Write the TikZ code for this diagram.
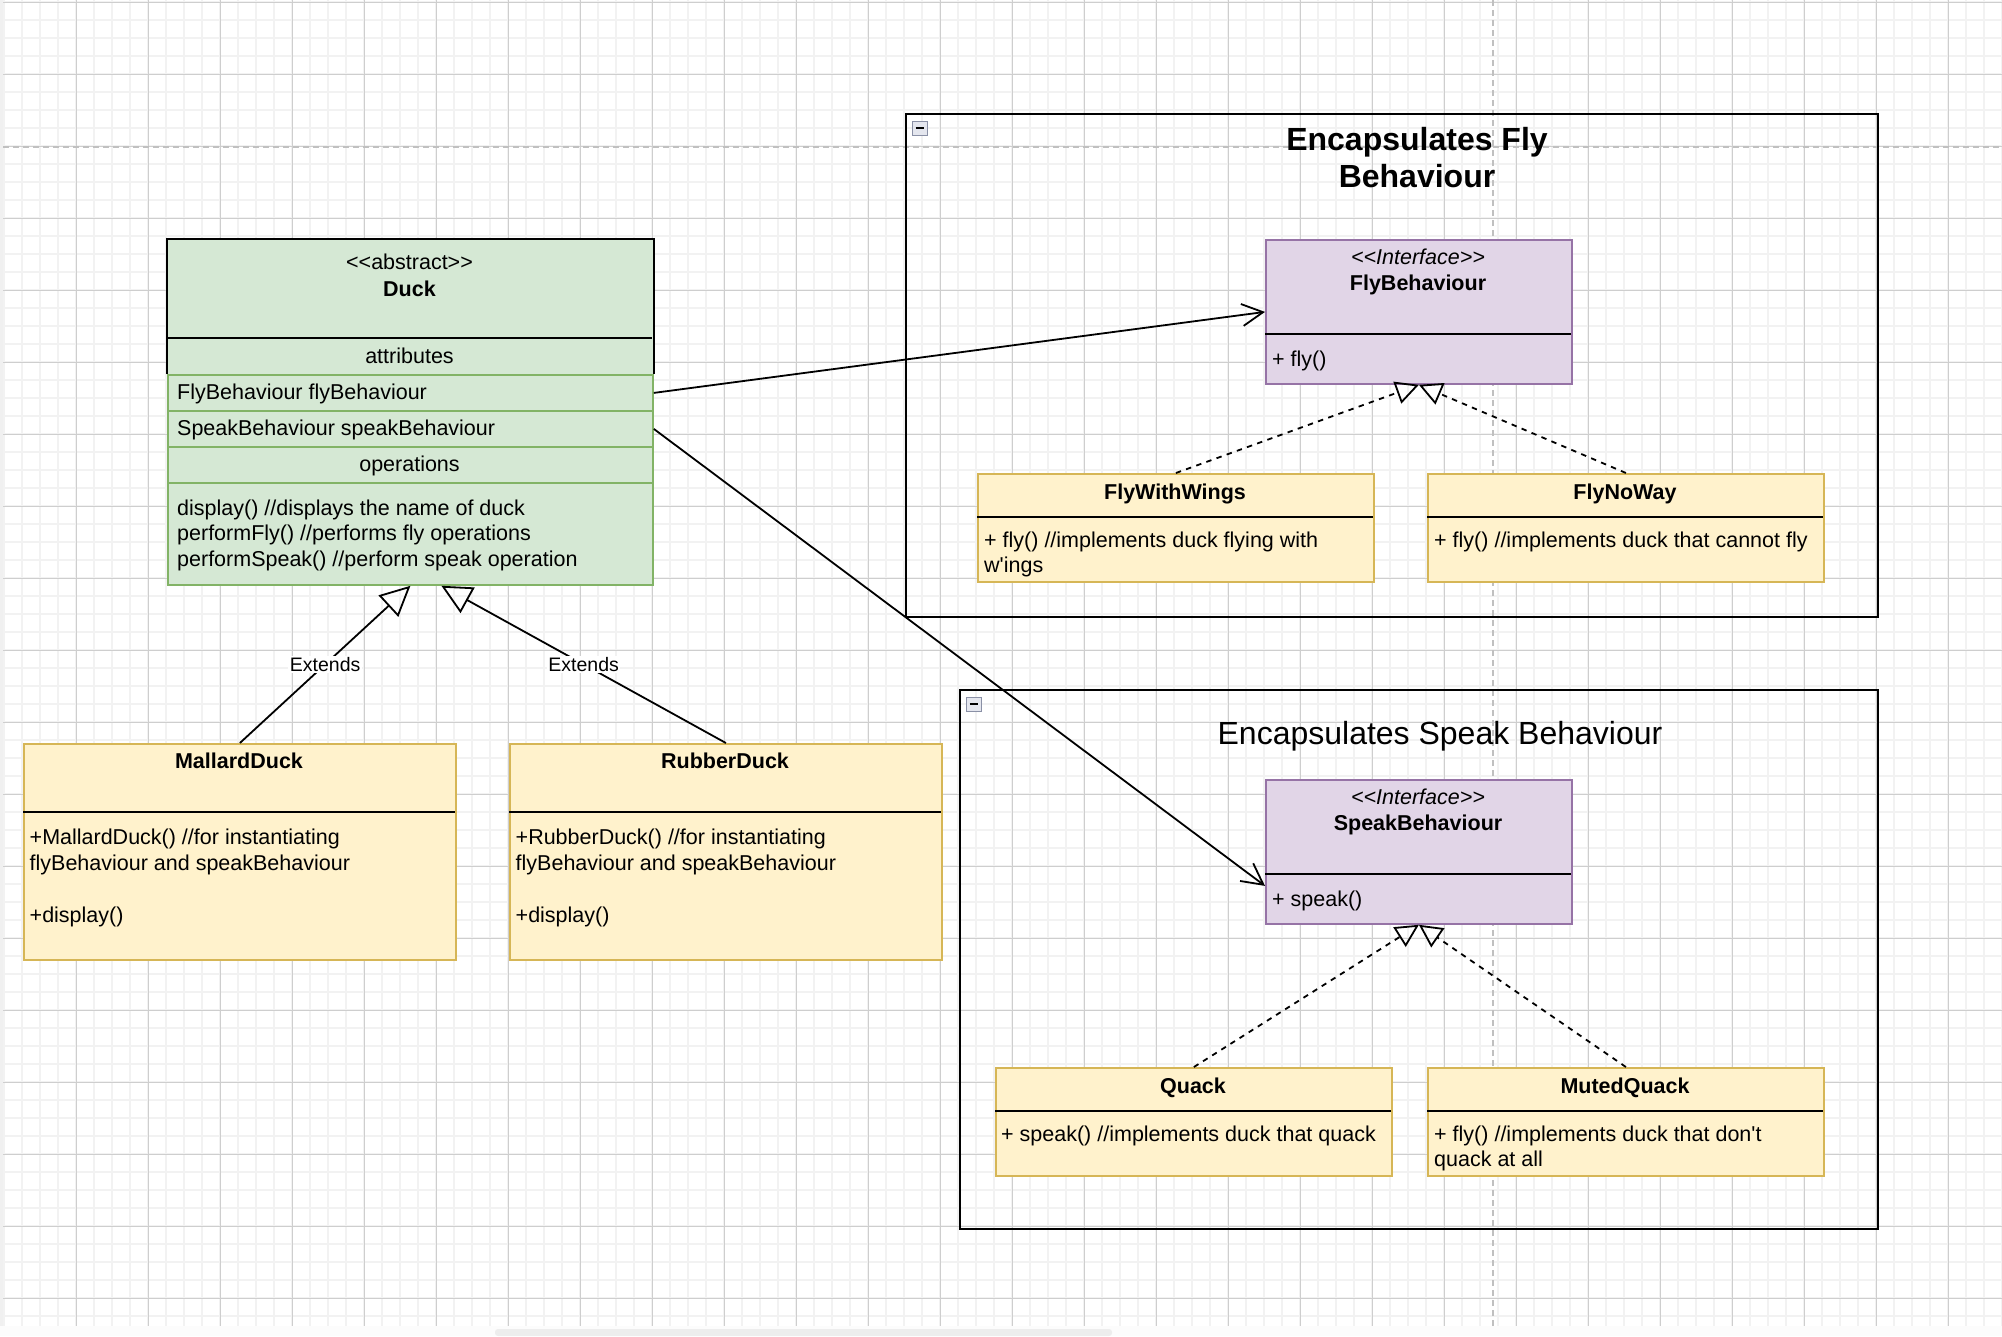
\documentclass[tikz,border=0pt]{standalone}
\usepackage{fontspec}
\setmainfont{Liberation Sans}[Ligatures=TeXOff]
\usetikzlibrary{arrows.meta}
\definecolor{sage}{RGB}{213, 232, 212}
\definecolor{fern}{RGB}{130, 179, 102}
\definecolor{lilac}{RGB}{225, 213, 231}
\definecolor{amethyst}{RGB}{150, 115, 166}
\definecolor{cream}{RGB}{255, 242, 204}
\definecolor{mustard}{RGB}{214, 182, 86}
\definecolor{gridlight}{RGB}{242, 242, 242}
\definecolor{griddark}{RGB}{206, 206, 206}
\definecolor{pagebreak}{RGB}{192, 192, 192}
\definecolor{knobedge}{RGB}{138, 144, 166}
\definecolor{knobfill}{RGB}{228, 230, 238}

\begin{document}
\begin{tikzpicture}[x=1pt, y=-1pt,
        boxframe/.style = {rectangle, anchor=north west, inner sep=0pt, line width=1.8pt},
        duckrow/.style  = {boxframe, fill=sage, draw=fern, minimum width=485pt, minimum height=36pt},
        iface/.style    = {boxframe, fill=lilac, draw=amethyst, minimum width=306pt, minimum height=144pt},
        impl/.style     = {boxframe, fill=cream, draw=mustard, minimum width=396pt, minimum height=108pt},
        subclass/.style = {boxframe, fill=cream, draw=mustard, minimum width=432pt, minimum height=216pt},
        pkgbox/.style   = {boxframe, draw=black},
        txt/.style      = {inner sep=0pt, font=\fontsize{21.5pt}{25.7pt}\selectfont},
        txtbold/.style  = {inner sep=0pt, font=\fontsize{21.5pt}{25.7pt}\selectfont\bfseries},
        bigtxt/.style   = {inner sep=0pt, font=\fontsize{32pt}{37pt}\selectfont},
        bigbold/.style  = {inner sep=0pt, font=\fontsize{32pt}{37pt}\selectfont\bfseries},
        lbl/.style      = {inner sep=1.5pt, fill=white, font=\fontsize{19.5pt}{23pt}\selectfont},
        sep/.style      = {line width=1.8pt},
        knob/.style     = {draw=knobedge, fill=knobfill, line width=1pt},
        extends/.style  = {line width=1.8pt, -{Triangle[open, length=30pt, width=29pt]}},
        realizes/.style = {line width=1.8pt, dash pattern=on 5.4pt off 5.4pt, -{Triangle[open, length=23pt, width=23pt]}},
        uses/.style     = {line width=1.8pt, -{Straight Barb[length=21pt, width=22pt]}}]
    \useasboundingbox (0,0) rectangle (2002,1336);

    % canvas grid
    \fill[white] (0,0) rectangle (2002,1336);
    \draw[gridlight, line width=1.3pt] foreach \x in {4,22,...,2002} {(\x,0) -- (\x,1326)};
    \draw[gridlight, line width=1.3pt] foreach \y in {2,20,...,1326} {(3,\y) -- (2002,\y)};
    \draw[griddark,  line width=1pt]   foreach \x in {76,148,...,2002} {(\x,0) -- (\x,1326)};
    \draw[griddark,  line width=1pt]   foreach \y in {2,74,...,1326} {(3,\y) -- (2002,\y)};
    \draw[pagebreak, line width=2pt, dash pattern=on 6pt off 4pt] (3,147) -- (2002,147);
    \draw[pagebreak, line width=2pt, dash pattern=on 6pt off 4pt] (1493,0) -- (1493,1326);
    \fill[gray!12] (0,0) rectangle (3,1326);
    \fill[gray!2]  (0,1326) rectangle (2002,1336);
    \fill[gray!14, rounded corners=3pt] (495,1329) rectangle (1112,1336);

    % encapsulation groups
    \node[pkgbox, minimum width=972pt, minimum height=503pt] (flypkg)   at (905,113) {};
    \node[pkgbox, minimum width=918pt, minimum height=539pt] (speakpkg) at (959,689) {};
    \filldraw[knob] (912,121) rectangle (927,135);
    \draw[line width=2pt] (915.5,128) -- (923.5,128);
    \filldraw[knob] (966,697) rectangle (981,711);
    \draw[line width=2pt] (969.5,704) -- (977.5,704);
    % multi-line nodes sit on the baseline of their last line
    \node[bigbold, align=center, anchor=base] (flytitle)   at (1417,187) {Encapsulates Fly\\Behaviour};
    \node[bigtxt, anchor=base]                (speaktitle) at (1440,744) {Encapsulates Speak Behaviour};

    % Duck
    \node[boxframe, fill=sage, minimum width=485pt, minimum height=345pt] (duck) at (167,239) {};
    \node[duckrow]                         (flyattr)   at (167,374) {};
    \node[duckrow]                         (speakattr) at (167,410) {};
    \node[duckrow]                         (opshead)   at (167,446) {};
    \node[duckrow, minimum height=102pt]   (opsbody)   at (167,482) {};
    \draw[sep] (flyattr.north west) -- (duck.north west) -- (duck.north east) -- (flyattr.north east);
    \draw[sep] (167,338) -- (652,338);
    \node[txt, anchor=base]      (duckstereo) at (409.5,269) {<<abstract>>};
    \node[txtbold, anchor=base]  (duckname)   at (409.5,296) {Duck};
    \node[txt, anchor=base]      (attrtitle)  at (409.5,363) {attributes};
    \node[txt, anchor=base west] (flyattrtxt) at (177,399)   {FlyBehaviour flyBehaviour};
    \node[txt, anchor=base west] (spkattrtxt) at (177,435)   {SpeakBehaviour speakBehaviour};
    \node[txt, anchor=base]      (opstitle)   at (409.5,471) {operations};
    \node[txt, anchor=base west, align=left] (opstxt) at (177,566.5)
        {display() //displays the name of duck\\performFly() //performs fly operations\\performSpeak() //perform speak operation};

    % subclasses
    \node[subclass] (mallard) at (23,743)  {};
    \node[subclass] (rubber)  at (509,743) {};
    \draw[sep] (23,812)  -- (455,812);
    \draw[sep] (509,812) -- (941,812);
    \node[txtbold, anchor=base] (mallardname) at (239,768) {MallardDuck};
    \node[txtbold, anchor=base] (rubbername)  at (725,768) {RubberDuck};
    \node[txt, anchor=base west, align=left] (mallardops) at (29.5,922)
        {+MallardDuck() //for instantiating\\flyBehaviour and speakBehaviour\\[25.7pt]+display()};
    \node[txt, anchor=base west, align=left] (rubberops)  at (515.5,922)
        {+RubberDuck() //for instantiating\\flyBehaviour and speakBehaviour\\[25.7pt]+display()};

    % interfaces
    \node[iface] (flybeh)   at (1265,239) {};
    \node[iface] (speakbeh) at (1265,779) {};
    \draw[sep] (1265,334) -- (1571,334);
    \draw[sep] (1265,874) -- (1571,874);
    \node[txt, anchor=base]      (flystereo)   at (1418,264)   {\itshape <<Interface>>};
    \node[txtbold, anchor=base]  (flyname)     at (1418,290.5) {FlyBehaviour};
    \node[txt, anchor=base west] (flyop)       at (1272,366.5) {+ fly()};
    \node[txt, anchor=base]      (speakstereo) at (1418,804)   {\itshape <<Interface>>};
    \node[txtbold, anchor=base]  (speakname)   at (1418,830.5) {SpeakBehaviour};
    \node[txt, anchor=base west] (speakop)     at (1272,906)   {+ speak()};

    % implementations
    \node[impl] (flywings)   at (977,473)   {};
    \node[impl] (flynoway)   at (1427,473)  {};
    \node[impl] (quack)      at (995,1067)  {};
    \node[impl] (mutedquack) at (1427,1067) {};
    \draw[sep] (977,517)   -- (1373,517);
    \draw[sep] (1427,517)  -- (1823,517);
    \draw[sep] (995,1111)  -- (1391,1111);
    \draw[sep] (1427,1111) -- (1823,1111);
    \node[txtbold, anchor=base] (flywingsname)   at (1175,499)  {FlyWithWings};
    \node[txtbold, anchor=base] (flynowayname)   at (1625,499)  {FlyNoWay};
    \node[txtbold, anchor=base] (quackname)      at (1193,1093) {Quack};
    \node[txtbold, anchor=base] (mutedquackname) at (1625,1093) {MutedQuack};
    \node[txt, anchor=base west, align=left] (flywingsop)   at (984,572.7)   {+ fly() //implements duck flying with\\w'ings};
    \node[txt, anchor=base west]             (flynowayop)   at (1434,547)    {+ fly() //implements duck that cannot fly};
    \node[txt, anchor=base west]             (quackop)      at (1001,1141)   {+ speak() //implements duck that quack};
    \node[txt, anchor=base west, align=left] (mutedquackop) at (1434,1166.7) {+ fly() //implements duck that don't\\quack at all};

    % relations
    \draw[uses]     (flyattr.east)   -- (flybeh.west);
    \draw[uses]     (speakattr.east) -- ([yshift=-34pt]speakbeh.west);
    \draw[extends]  (mallard.north)  -- node[lbl] (extleft)  {Extends} (duck.south);
    \draw[extends]  (rubber.north)   -- node[lbl] (extright) {Extends} ([xshift=31pt]duck.south);
    \draw[realizes] (flywings.north)   -- (flybeh.south);
    \draw[realizes] (flynoway.north)   -- (flybeh.south);
    \draw[realizes] (quack.north)      -- (speakbeh.south);
    \draw[realizes] (mutedquack.north) -- (speakbeh.south);
\end{tikzpicture}
\end{document}
